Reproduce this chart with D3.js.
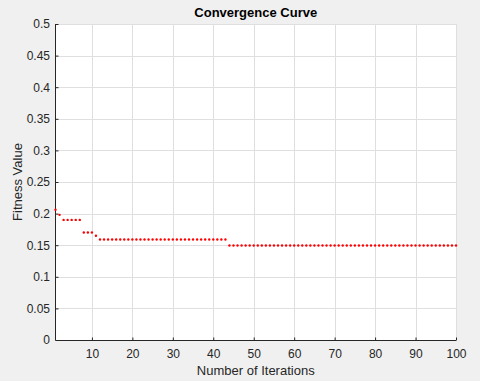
<!DOCTYPE html>
<html>
<head>
<meta charset="utf-8">
<script src="https://cdn.jsdelivr.net/npm/d3@7"></script>
<style>
  html, body { margin: 0; padding: 0; background: #f0f0f0; }
  svg { display: block; }
</style>
</head>
<body>
<svg width="480" height="381"></svg>
<script>
// fitness value at each iteration
const iterations = d3.range(1, 101);
const fitness = [
  0.206, 0.198, 0.190, 0.190, 0.190, 0.190, 0.190, 0.170, 0.170, 0.170,
  0.165, 0.159, 0.159, 0.159, 0.159, 0.159, 0.159, 0.159, 0.159, 0.159,
  0.159, 0.159, 0.159, 0.159, 0.159, 0.159, 0.159, 0.159, 0.159, 0.159,
  0.159, 0.159, 0.159, 0.159, 0.159, 0.159, 0.159, 0.159, 0.159, 0.159,
  0.159, 0.159, 0.159, 0.1495, 0.1495, 0.1495, 0.1495, 0.1495, 0.1495, 0.1495,
  0.1495, 0.1495, 0.1495, 0.1495, 0.1495, 0.1495, 0.1495, 0.1495, 0.1495, 0.1495,
  0.1495, 0.1495, 0.1495, 0.1495, 0.1495, 0.1495, 0.1495, 0.1495, 0.1495, 0.1495,
  0.1495, 0.1495, 0.1495, 0.1495, 0.1495, 0.1495, 0.1495, 0.1495, 0.1495, 0.1495,
  0.1495, 0.1495, 0.1495, 0.1495, 0.1495, 0.1495, 0.1495, 0.1495, 0.1495, 0.1495,
  0.1495, 0.1495, 0.1495, 0.1495, 0.1495, 0.1495, 0.1495, 0.1495, 0.1495, 0.1495
];
const xTicks = [10, 20, 30, 40, 50, 60, 70, 80, 90, 100];
const yTicks = [0, 0.05, 0.1, 0.15, 0.2, 0.25, 0.3, 0.35, 0.4, 0.45, 0.5];

const svg = d3.select("svg");
const font = "Liberation Sans, Arial, Helvetica, sans-serif";

const plotLeft = 55.5, plotRight = 456, plotTop = 24, plotBottom = 340;

const x = d3.scaleLinear().domain([1, 100]).range([plotLeft, plotRight]);
const y = d3.scaleLinear().domain([0, 0.5]).range([plotBottom, plotTop]);

// white plot area
svg.append("rect")
   .attr("x", plotLeft)
   .attr("y", plotTop)
   .attr("width", plotRight - plotLeft)
   .attr("height", plotBottom - plotTop)
   .attr("fill", "#fff");

// grid lines
svg.append("g")
   .selectAll("line")
   .data(xTicks)
   .join("line")
   .attr("x1", d => Math.round(x(d)) + 0.5)
   .attr("x2", d => Math.round(x(d)) + 0.5)
   .attr("y1", plotTop)
   .attr("y2", plotBottom)
   .attr("stroke", "#dfdfdf")
   .attr("stroke-width", 1);

svg.append("g")
   .selectAll("line")
   .data(yTicks)
   .join("line")
   .attr("x1", plotLeft)
   .attr("x2", plotRight)
   .attr("y1", d => Math.round(y(d)) + 0.5)
   .attr("y2", d => Math.round(y(d)) + 0.5)
   .attr("stroke", "#dfdfdf")
   .attr("stroke-width", 1);

// axes, ticks pointing inward like MATLAB
const xAxis = svg.append("g")
   .attr("transform", `translate(0,${plotBottom + 0.5})`)
   .call(d3.axisBottom(x).tickValues(xTicks).tickSize(-3).tickPadding(9).tickFormat(d3.format("d")))
   .call(g => g.select(".domain").attr("d", `M${plotLeft},0H${plotRight}`));

const yAxis = svg.append("g")
   .attr("transform", `translate(${plotLeft},0)`)
   .call(d3.axisLeft(y).tickValues(yTicks).tickSize(-3).tickPadding(5.5).tickFormat(d => String(+d.toFixed(2))))
   .call(g => g.select(".domain").attr("d", `M0,${plotTop}V${plotBottom}`));

[xAxis, yAxis].forEach(g => {
  g.select(".domain").attr("stroke", "#262626").attr("stroke-width", 1);
  g.selectAll(".tick line").attr("stroke", "#262626");
  g.selectAll(".tick text")
   .attr("fill", "#262626")
   .attr("font-family", font)
   .attr("font-size", "12px");
});

// red dot markers
svg.append("g")
   .selectAll("circle")
   .data(iterations)
   .join("circle")
   .attr("cx", d => x(d))
   .attr("cy", (d, i) => y(fitness[i]))
   .attr("r", 1.2)
   .attr("fill", "#ff0000");

// title
svg.append("text")
   .attr("x", (plotLeft + plotRight) / 2)
   .attr("y", 17)
   .attr("text-anchor", "middle")
   .attr("font-family", font)
   .attr("font-size", "13px")
   .attr("font-weight", "bold")
   .attr("fill", "#000")
   .text("Convergence Curve");

// axis labels
svg.append("text")
   .attr("x", (plotLeft + plotRight) / 2)
   .attr("y", 375)
   .attr("text-anchor", "middle")
   .attr("font-family", font)
   .attr("font-size", "13px")
   .attr("fill", "#262626")
   .text("Number of Iterations");

svg.append("text")
   .attr("transform", `translate(22,${(plotTop + plotBottom) / 2}) rotate(-90)`)
   .attr("text-anchor", "middle")
   .attr("font-family", font)
   .attr("font-size", "13px")
   .attr("fill", "#262626")
   .text("Fitness Value");
</script>
</body>
</html>
